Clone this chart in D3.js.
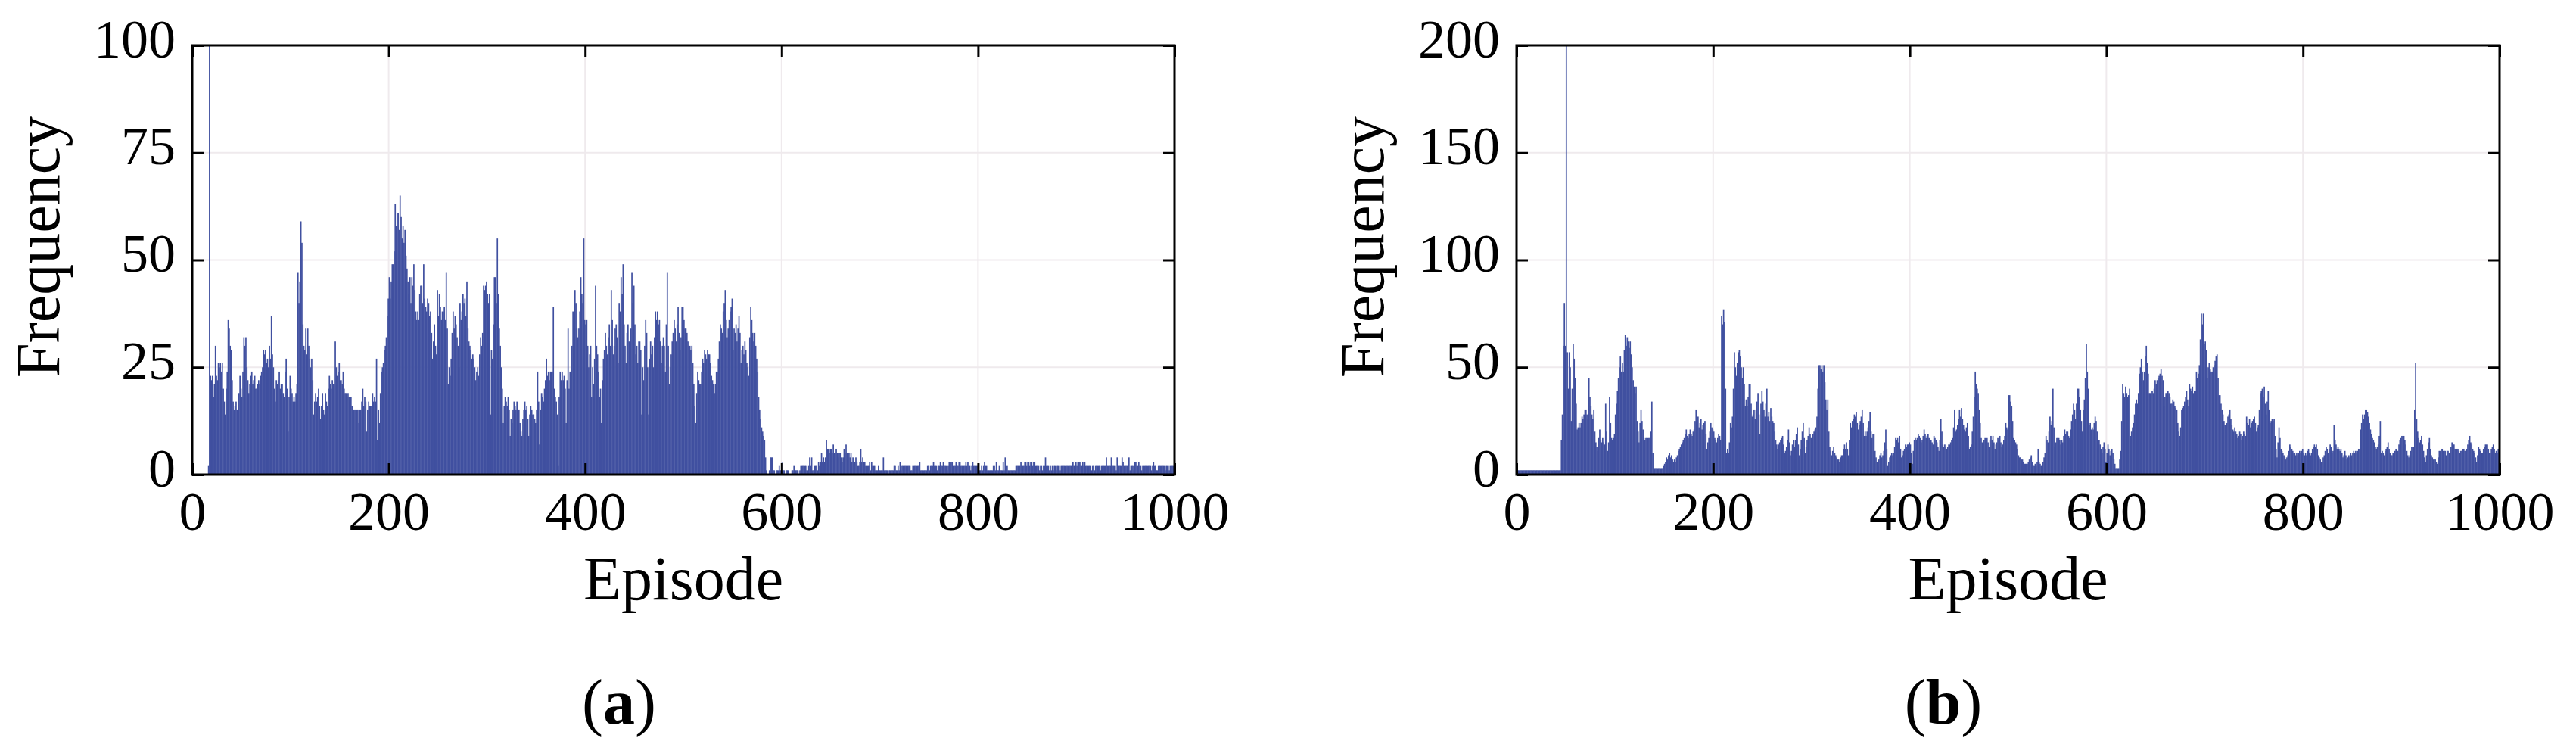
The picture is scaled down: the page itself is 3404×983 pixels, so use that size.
<!DOCTYPE html>
<html>
<head>
<meta charset="utf-8">
<title>Frequency per episode</title>
<style>
body { margin: 0; background: #fff; }
text { font-family: "Liberation Serif", "Times New Roman", serif; fill: #000; }
</style>
</head>
<body>
<script src="https://cdn.jsdelivr.net/npm/d3@7"></script>
<script>

// frequency per episode, panel (a) - one value per episode, 20 per row
var freqA = [
  0,0,0,0,0,0,0,0,0,0,0,0,0,0,0,0,2,120,23,22,
  23,18,21,30,23,22,26,25,26,24,26,20,17,14,20,24,36,34,30,29,
  22,17,15,16,17,15,15,19,23,20,18,24,32,30,32,25,22,19,21,23,
  24,21,22,23,20,20,21,22,21,23,24,25,29,28,29,26,27,25,30,27,
  37,28,25,20,17,22,21,22,24,20,21,21,19,18,24,27,20,10,18,23,
  20,19,17,18,17,19,21,47,40,45,59,54,35,30,29,34,28,34,30,27,
  25,27,22,14,17,19,17,18,20,16,13,16,19,15,14,19,17,16,20,23,
  21,20,22,21,21,31,25,23,24,26,22,22,21,24,20,19,19,18,19,18,
  17,18,16,15,15,15,15,15,15,12,15,15,17,20,16,18,17,10,15,17,
  16,16,16,19,17,18,17,27,8,15,12,19,24,25,26,29,30,32,37,41,
  46,41,45,49,49,52,63,58,61,61,57,65,60,55,58,54,57,51,48,45,
  42,46,40,46,44,49,43,38,36,38,36,42,44,44,40,49,41,39,38,41,
  40,37,38,33,27,31,35,30,28,43,37,42,39,36,38,38,39,36,47,34,
  21,25,23,27,33,38,34,37,35,32,30,25,40,36,38,42,40,41,37,45,
  34,31,30,29,27,28,27,25,22,24,25,23,28,32,30,33,44,43,44,45,
  42,40,42,14,29,27,35,46,46,40,55,42,34,30,25,20,12,16,18,17,
  16,18,15,9,13,12,15,17,16,15,17,15,15,12,10,9,13,15,17,15,
  16,13,9,14,16,15,14,14,13,12,15,24,17,7,15,19,18,17,20,22,
  27,23,24,22,24,24,24,39,20,18,17,14,2,18,24,22,24,22,23,20,
  12,22,34,20,24,24,30,38,37,43,40,34,32,34,38,46,42,40,55,36,
  35,36,30,25,28,30,18,25,21,27,44,30,28,24,18,20,12,22,27,29,
  33,30,28,32,35,30,43,36,28,30,34,35,32,26,40,38,46,42,49,35,
  30,26,33,35,31,29,34,47,40,44,35,28,30,26,31,31,29,14,25,22,
  30,36,33,25,14,27,31,28,30,25,32,38,36,38,35,36,31,26,30,32,
  30,24,35,47,30,21,25,28,31,33,36,34,31,35,39,33,29,32,39,39,
  36,34,34,33,31,30,30,29,30,26,21,16,12,19,24,22,21,21,24,27,
  26,29,28,27,29,28,28,26,23,22,21,19,21,24,24,27,31,35,34,33,
  38,40,43,36,32,34,36,38,39,41,29,34,33,35,31,34,37,33,26,29,
  30,28,31,29,26,25,23,32,39,36,33,31,33,30,27,24,18,15,13,11,
  10,9,8,4,1,0,0,1,4,4,4,1,1,0,1,1,1,2,1,1,
  3,1,1,0,1,1,1,0,0,0,1,1,2,1,1,1,1,0,1,2,
  2,2,2,2,2,1,1,2,4,2,4,1,1,2,2,2,1,3,2,3,
  5,3,4,3,4,8,6,6,5,6,6,5,7,5,5,6,5,4,5,5,
  4,3,4,6,5,7,5,4,5,4,5,3,4,3,3,4,3,2,2,3,
  6,3,4,3,3,2,2,2,2,3,1,3,2,2,2,1,1,1,2,1,
  1,1,1,4,1,1,1,1,0,1,1,1,1,1,2,2,1,1,2,1,
  3,1,2,2,2,2,2,2,2,2,2,1,1,2,2,2,2,2,2,2,
  3,1,1,1,1,1,1,1,2,2,1,2,2,2,3,2,2,2,1,2,
  2,3,2,2,3,2,2,2,1,2,3,2,3,3,2,2,2,3,2,2,
  3,3,2,2,2,2,2,3,2,3,2,2,1,2,3,2,2,2,2,2,
  1,1,1,2,1,2,3,2,2,1,1,1,1,1,1,2,2,1,3,1,
  1,2,1,1,1,3,1,4,1,2,1,1,1,1,1,1,1,1,2,2,
  2,2,2,3,2,2,2,3,3,2,3,3,2,3,3,2,3,3,2,2,
  2,2,1,2,2,1,2,2,4,2,2,2,1,2,1,2,1,2,2,1,
  2,2,2,1,2,2,2,2,2,2,2,2,2,2,2,2,3,2,2,3,
  2,3,3,3,2,2,3,2,3,2,2,2,2,2,2,1,2,2,1,2,
  2,2,2,2,1,2,2,2,2,2,4,2,2,2,2,4,2,2,2,2,
  1,4,2,2,2,2,4,3,2,2,2,2,2,4,1,2,2,2,1,3,
  3,2,2,3,2,2,1,2,2,2,2,2,2,2,2,2,1,2,3,2,
  2,1,1,2,2,2,2,2,2,2,1,2,2,2,1,2,2,2,2,2
];

// frequency per episode, panel (b)
var freqB = [
  2,2,2,2,2,2,2,2,2,2,2,2,2,2,2,2,2,2,2,2,
  2,2,2,2,2,2,2,2,2,2,2,2,2,2,2,2,2,2,2,2,
  2,2,2,2,2,16,28,60,80,60,230,57,40,57,50,25,40,61,54,45,
  33,21,22,24,22,24,27,26,28,30,30,28,26,45,36,32,28,26,30,20,
  15,13,11,17,21,16,15,17,15,14,33,20,11,15,36,24,17,16,17,19,
  28,33,39,45,50,55,48,52,48,58,65,60,64,62,59,62,56,50,44,41,
  38,41,25,20,15,24,30,25,21,17,16,17,17,17,17,17,20,34,10,3,
  3,3,3,3,3,3,3,3,3,4,5,6,8,7,9,10,8,9,7,6,
  7,6,8,9,11,12,13,14,15,16,17,19,21,18,17,19,21,19,18,20,
  21,25,30,24,27,22,24,26,21,23,24,25,19,12,15,17,20,24,22,21,
  20,17,16,15,17,19,18,16,74,70,77,71,40,10,12,10,15,24,22,27,
  40,57,50,46,52,57,58,55,50,45,50,42,32,35,32,36,42,42,33,27,
  28,30,26,30,34,38,28,19,33,39,34,30,27,33,40,27,29,25,31,27,
  25,24,20,16,14,12,14,15,16,17,18,14,10,11,13,16,21,15,9,11,
  14,16,13,16,19,22,14,9,12,16,20,24,17,10,13,16,18,22,19,17,
  17,19,20,21,22,27,40,51,51,49,51,48,51,43,35,30,35,20,13,11,
  9,11,13,10,9,8,7,7,6,8,9,9,12,14,12,15,12,9,16,24,
  22,25,26,28,27,29,24,21,23,25,27,30,24,18,20,18,20,22,25,29,
  20,17,19,19,11,8,6,4,7,9,10,8,9,11,15,21,12,4,6,8,
  9,10,9,10,13,17,16,17,15,18,12,8,9,11,12,14,13,14,14,15,
  14,10,5,11,16,17,16,17,19,18,17,15,16,18,21,19,17,18,19,17,
  15,16,15,14,18,17,16,15,13,11,16,26,20,14,13,14,13,12,13,14,
  14,15,16,17,22,30,20,21,23,26,30,27,31,26,23,21,20,22,24,18,
  12,13,14,20,27,36,48,42,40,38,30,24,17,15,14,16,17,15,17,15,
  13,16,18,16,18,15,12,14,15,17,16,18,15,13,14,16,18,24,22,21,
  37,37,34,32,25,17,16,15,14,12,9,8,8,7,7,6,5,5,5,5,
  6,7,8,9,6,4,4,5,4,6,12,6,5,4,4,6,8,10,18,16,
  15,20,27,23,25,40,22,13,15,17,17,17,16,14,16,15,18,21,19,20,
  20,18,17,21,25,28,33,30,26,33,40,40,36,30,25,20,30,35,45,61,
  48,40,23,24,21,22,21,24,27,25,20,12,16,14,12,10,13,15,12,6,
  10,14,12,9,11,12,10,7,5,3,3,3,3,7,11,25,42,38,36,41,
  38,36,37,40,18,20,22,24,28,33,35,33,38,47,50,54,48,44,48,55,
  60,52,47,38,38,38,39,38,40,44,42,44,45,46,47,49,46,44,32,36,
  38,38,39,38,36,33,33,35,34,32,31,30,24,20,18,22,30,31,32,34,
  36,39,35,32,42,40,39,41,38,39,39,48,45,47,51,63,75,70,75,61,
  62,58,45,50,52,49,48,48,50,51,53,55,56,45,37,37,33,30,28,25,
  23,22,24,27,28,30,26,23,21,20,22,20,19,17,18,20,19,16,18,20,
  19,18,27,24,23,26,22,24,25,26,27,24,20,22,23,30,38,39,40,36,
  41,33,28,34,39,30,24,25,26,25,26,18,12,8,15,22,17,12,11,10,
  9,8,7,8,9,11,14,13,12,11,10,10,9,10,9,10,11,10,11,12,
  10,9,10,9,11,12,10,9,10,12,13,14,13,14,12,9,8,7,6,6,
  8,9,11,13,12,10,12,14,13,10,11,23,16,14,12,13,12,11,12,10,
  8,9,11,9,7,8,9,8,10,9,10,11,10,11,10,11,12,12,21,24,
  28,26,28,30,30,29,27,24,21,19,17,16,15,13,12,13,14,18,25,10,
  11,10,9,11,12,13,15,12,10,9,9,10,10,11,12,11,11,14,16,17,
  18,18,18,16,14,11,9,8,9,11,13,13,13,30,52,26,20,17,15,16,
  18,14,11,8,6,9,12,15,17,12,9,8,7,7,7,6,5,8,11,11,
  12,12,11,11,11,9,11,11,10,10,13,15,14,14,12,12,12,12,11,10,
  11,11,12,12,11,11,12,14,16,18,15,14,12,11,10,8,6,9,13,12,
  11,10,10,12,13,14,14,14,12,10,10,12,13,14,12,10,11,10,12,10
];

var xTicks = [0, 200, 400, 600, 800, 1000];
var yTicksA = [0, 25, 50, 75, 100];
var yTicksB = [0, 50, 100, 150, 200];
var panelNames = ["a", "b"];

var width = 3404, height = 983;
var plotTop = 60, plotBottom = 627;
var barColor = "#4050a0";

var panels = [
  { name: panelNames[0], data: freqA, yTicks: yTicksA, left: 254, right: 1552, caption: 818 },
  { name: panelNames[1], data: freqB, yTicks: yTicksB, left: 2004, right: 3303, caption: 2568 }
];

var svg = d3.select("body").append("svg")
    .attr("width", width)
    .attr("height", height);

svg.append("rect")
    .attr("width", width)
    .attr("height", height)
    .attr("fill", "#fff");

panels.forEach(function(p, k) {
  var x = d3.scaleLinear().domain([0, 1000]).range([p.left, p.right]);
  var y = d3.scaleLinear().domain([0, d3.max(p.yTicks)]).range([plotBottom, plotTop]);

  var g = svg.append("g");

  // clip for the bars (spikes go past the top)
  svg.append("clipPath").attr("id", "clip" + k)
    .append("rect")
    .attr("x", p.left).attr("y", plotTop)
    .attr("width", p.right - p.left).attr("height", plotBottom - plotTop);

  // faint grid lines
  g.append("g").selectAll("line")
    .data(xTicks.slice(1, -1))
    .enter().append("line")
    .attr("x1", d => x(d)).attr("x2", d => x(d))
    .attr("y1", plotTop).attr("y2", plotBottom)
    .attr("stroke", "#efeaed").attr("stroke-width", 2);

  g.append("g").selectAll("line")
    .data(p.yTicks.slice(1, -1))
    .enter().append("line")
    .attr("x1", p.left).attr("x2", p.right)
    .attr("y1", d => y(d)).attr("y2", d => y(d))
    .attr("stroke", "#efeaed").attr("stroke-width", 2);

  // one bar per episode
  g.append("g")
    .attr("clip-path", "url(#clip" + k + ")")
    .selectAll("rect")
    .data(p.data.map((v, i) => ({ ep: i, v: v })).filter(d => d.v > 0))
    .enter().append("rect")
    .attr("x", d => x(d.ep))
    .attr("width", d => x(d.ep + 1) - x(d.ep) + 0.4)
    .attr("y", d => y(d.v))
    .attr("height", d => y(0) - y(d.v))
    .attr("fill", barColor);

  // axes, ticks pointing inward
  var fmt = d3.format("d");
  var axB = g.append("g")
      .attr("transform", "translate(0," + plotBottom + ")")
      .call(d3.axisBottom(x).tickValues(xTicks).tickFormat(fmt).tickSizeInner(-15).tickSizeOuter(0).tickPadding(22));
  var axT = g.append("g")
      .attr("transform", "translate(0," + plotTop + ")")
      .call(d3.axisTop(x).tickValues(xTicks).tickSizeInner(-15).tickSizeOuter(0).tickFormat(""));
  var axL = g.append("g")
      .attr("transform", "translate(" + p.left + ",0)")
      .call(d3.axisLeft(y).tickValues(p.yTicks).tickFormat(fmt).tickSizeInner(-15).tickSizeOuter(0).tickPadding(22));
  var axR = g.append("g")
      .attr("transform", "translate(" + p.right + ",0)")
      .call(d3.axisRight(y).tickValues(p.yTicks).tickSizeInner(-15).tickSizeOuter(0).tickFormat(""));

  [axB, axT, axL, axR].forEach(function(a) {
    a.select(".domain").remove();
    a.attr("font-family", null).attr("font-size", 72);
    a.selectAll("line").attr("stroke", "#000").attr("stroke-width", 3);
  });
  axL.selectAll("text").attr("dy", "0.21em");

  // frame
  g.append("rect")
    .attr("x", p.left).attr("y", plotTop)
    .attr("width", p.right - p.left).attr("height", plotBottom - plotTop)
    .attr("fill", "none")
    .attr("stroke", "#000")
    .attr("stroke-width", 3);

  // axis titles
  g.append("text")
    .attr("transform", "translate(" + (p.left - 176) + ",326) rotate(-90)")
    .attr("text-anchor", "middle")
    .style("font-size", "82px")
    .text("Frequency");

  g.append("text")
    .attr("x", (p.left + p.right) / 2)
    .attr("y", 792)
    .attr("text-anchor", "middle")
    .style("font-size", "82px")
    .text("Episode");

  // sub-figure caption
  var cap = g.append("text")
    .attr("x", p.caption)
    .attr("y", 956)
    .attr("text-anchor", "middle")
    .style("font-size", "84px");
  cap.append("tspan").text("(");
  cap.append("tspan").style("font-weight", "bold").text(p.name);
  cap.append("tspan").text(")");
});

</script>
</body>
</html>
